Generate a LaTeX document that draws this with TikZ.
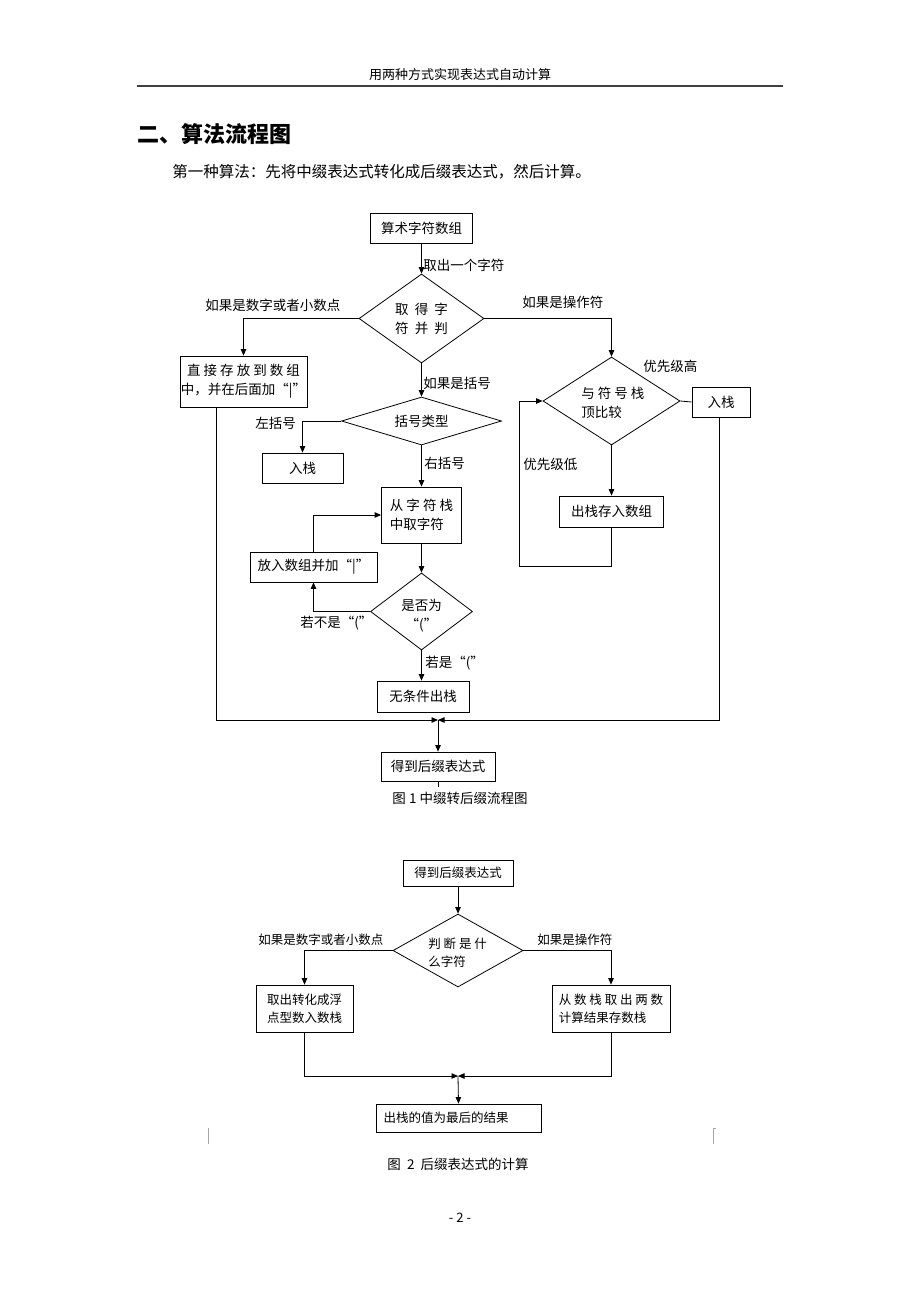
\documentclass[tikz,border=0pt]{standalone}
\usepackage{fontspec}
\newfontfamily\cjk{Noto Sans CJK SC}
\usetikzlibrary{arrows.meta,shapes.geometric,calc}
\begin{document}
\begin{tikzpicture}[x=1pt,y=-1pt,
  line width=0.8pt,
  fa/.style={font=\cjk\fontsize{13.5}{19}\selectfont},
  fb/.style={font=\cjk\fontsize{12.5}{18}\selectfont},
  box/.style={draw, rectangle, inner sep=0pt, align=center, fa},
  boxb/.style={draw, rectangle, inner sep=0pt, align=center, fb},
  dia/.style={draw, diamond, inner sep=0pt},
  txt/.style={inner sep=0pt, align=center, fa},
  lbl/.style={inner sep=0pt, anchor=west, fa},
  lblb/.style={inner sep=0pt, anchor=west, fb},
  arr/.style={-{Triangle[length=6.5pt,width=5.5pt]}},
  cropmark/.style={line width=0.8pt, gray!70}
]
\useasboundingbox (0,0) rectangle (920,1302);
\fill[white] (0,0) rectangle (920,1302);

% header
\node[font=\cjk\fontsize{13}{15}\selectfont, inner sep=0pt] (hdr) at (460,75) {用两种方式实现表达式自动计算};
\draw[line width=1.6pt, gray!50!black] (137,86) -- (783,86);
\node[anchor=west, inner sep=0pt, font=\cjk\bfseries\fontsize{22}{26}\selectfont] (h2) at (137,134) {二、算法流程图};
\node[anchor=west, inner sep=0pt, font=\cjk\fontsize{15.5}{18}\selectfont] (p1) at (172,172) {第一种算法：先将中缀表达式转化成后缀表达式，然后计算。};

% ---------- figure 1 ----------
\node[box, minimum width=102pt, minimum height=30pt] (B1) at (421.5,228) {算术字符数组};
\node[dia, minimum width=125pt, minimum height=89pt] (d1) at (421.5,318.5) {};
\node[txt] (t1) at (421.5,319) {取~~得~~字\\符~~并~~判};
\node[box, minimum width=127pt, minimum height=51pt] (B2) at (243.5,381.5) {直~接~存~放~到~数~组\\中，并在后面加“|”};

\node[dia, minimum width=137pt, minimum height=88pt] (d2) at (611.5,401) {};
\node[txt, anchor=west, align=left] (t2) at (581,403) {与~符~号~栈\\顶比较};
\node[box, minimum width=58pt, minimum height=30pt] (B3) at (721,402) {入栈};
\node[box, minimum width=104pt, minimum height=31pt] (B4) at (611.5,511.5) {出栈存入数组};

\node[dia, minimum width=160pt, minimum height=48pt] (d3) at (421.5,421) {};
\node[txt] (t3) at (421.5,421) {括号类型};
\node[box, minimum width=81pt, minimum height=30pt] (B5) at (302.5,468) {入栈};
\node[box, minimum width=80pt, minimum height=56pt, align=left] (B6) at (421.5,515) {从~字~符~栈\\中取字符};
\node[dia, minimum width=102pt, minimum height=77pt] (d4) at (421.5,611.5) {};
\node[txt] (t4) at (421.5,616) {是否为\\“(”};
\node[box, minimum width=127pt, minimum height=30pt] (B7) at (313.5,567) {放入数组并加“|”};
\node[box, minimum width=92pt, minimum height=31pt] (B8) at (423,696.5) {无条件出栈};
\node[box, minimum width=114pt, minimum height=29pt] (B9) at (438,766.5) {得到后缀表达式};

\coordinate (m1) at (438,720);
\coordinate (lp1) at (519,566);

\draw[arr] (B1.south) -- (d1.north);
\draw[arr] (d1.west) -| (B2.north);
\draw[arr] (d1.east) -| (d2.north);
\draw (d2.east) -- (B3.west);
\draw[arr] (d2.south) -- (B4.north);
\draw[arr] (B4.south) |- (lp1) |- (d2.west);
\draw[arr] (d1.south) -- (d3.north);
\draw[arr] (d3.west) -| (B5.north);
\draw[arr] (d3.south) -- (B6.north);
\draw[arr] (B6.south) -- (d4.north);
\draw[arr] (d4.west) -| (B7.south);
\draw[arr] (B7.north) |- (B6.west);
\draw[arr] (d4.south) -- (d4.south |- B8.north);
\draw[arr] ($(B2.south west)+(37,0)$) |- (m1);
\draw[arr] ($(B3.south)+(-2,0)$) |- (m1);
\draw[arr] (m1) -- (B9.north);
\draw (B9.south) -- ++(0,6);

\node[lbl] (l1) at (423,265) {取出一个字符};
\node[lbl] (l2) at (205,305) {如果是数字或者小数点};
\node[lbl] (l3) at (522,302) {如果是操作符};
\node[lbl] (l4) at (423,383) {如果是括号};
\node[lbl] (l5) at (643,366) {优先级高};
\node[lbl] (l6) at (523,464) {优先级低};
\node[lbl] (l7) at (255,423) {左括号};
\node[lbl] (l8) at (424,463) {右括号};
\node[lbl] (l9) at (300,623) {若不是“(”};
\node[lbl] (l10) at (425,663) {若是“(”};

\node[font=\cjk\fontsize{13.5}{16}\selectfont, inner sep=0pt] (cap1) at (460,798) {图 1 中缀转后缀流程图};

% ---------- figure 2 ----------
\node[boxb, minimum width=110pt, minimum height=26pt] (C1) at (458,873) {得到后缀表达式};
\node[dia, minimum width=130pt, minimum height=73pt] (d5) at (458,950.5) {};
\node[txt, fb, anchor=west, align=left] (t5) at (428,953) {判~断~是~什\\么字符};
\node[boxb, minimum width=97pt, minimum height=47pt] (C2) at (304.5,1008.5) {取出转化成浮\\点型数入数栈};
\node[boxb, minimum width=118pt, minimum height=47pt, align=left] (C3) at (611,1008.5) {从~数~栈~取~出~两~数\\计算结果存数栈};
\node[boxb, minimum width=165pt, minimum height=28pt, text width=150pt, align=left] (C4) at (458.5,1118) {出栈的值为最后的结果};
\coordinate (m2) at (458,1076);

\draw[arr] (C1.south) -- (d5.north);
\draw[arr] (d5.west) -| (C2.north);
\draw[arr] (d5.east) -| (C3.north);
\draw[arr] (C2.south) |- (m2);
\draw[arr] (C3.south) |- (m2);
\draw[arr] (m2) -- (C4.north);

\node[lblb] (k1) at (258,940) {如果是数字或者小数点};
\node[lblb] (k2) at (537,940) {如果是操作符};

% crop marks
\draw[cropmark] (208,1128) -- (208,1144);
\draw[cropmark] (713,1128) -- (713,1144);
\draw[cropmark] (713,1128) -- (716,1128);

\node[font=\cjk\fontsize{13.5}{16}\selectfont, inner sep=0pt] (cap2) at (458,1164) {图~~2~~后缀表达式的计算};
\node[font=\cjk\fontsize{13}{16}\selectfont, inner sep=0pt] (pg) at (460,1218) {- 2 -};
\end{tikzpicture}
\end{document}
